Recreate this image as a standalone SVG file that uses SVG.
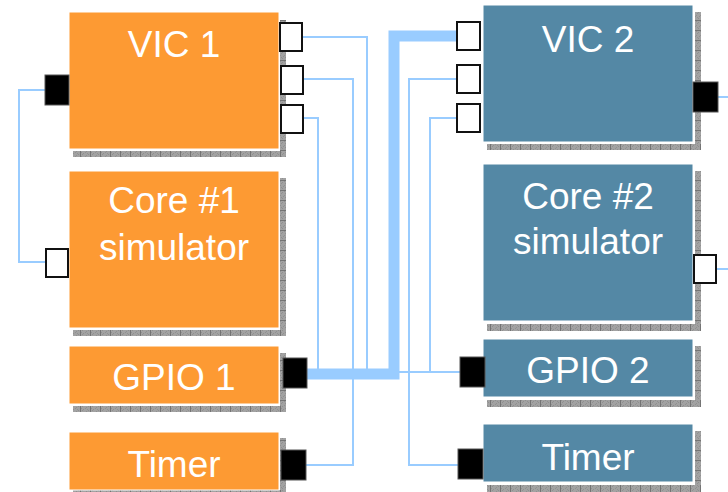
<svg xmlns="http://www.w3.org/2000/svg" width="728" height="492" viewBox="0 0 728 492">
<style>
.o{fill:#fd9a33;stroke:#fff;stroke-width:1}
.b{fill:#5488a5;stroke:#fff;stroke-width:1}
.t{fill:#fff;font-family:"Liberation Sans",Arial,sans-serif;font-size:37px;text-anchor:middle}
.sh{fill:url(#ph)}
.sv{fill:url(#pv)}
.pw{fill:#fff;stroke:#111;stroke-width:2}
.pb{fill:#000;stroke:#555;stroke-width:1}
.c{fill:none;stroke:#99ccff;stroke-width:2}
.ct{fill:none;stroke:#99ccff;stroke-width:11}
</style>
<defs>
<pattern id="ph" patternUnits="userSpaceOnUse" width="10" height="4">
<rect width="10" height="4" fill="#a2a2a2"/>
<rect x="1" y="0" width="1" height="1" fill="#909090"/><rect x="3" y="1" width="1" height="1" fill="#909090"/><rect x="5" y="0" width="1" height="1" fill="#909090"/><rect x="7" y="1" width="1" height="1" fill="#909090"/><rect x="2" y="2" width="1" height="1" fill="#909090"/><rect x="6" y="3" width="1" height="1" fill="#909090"/><rect x="8" y="2" width="1" height="1" fill="#909090"/>
<rect x="0" y="0" width="1" height="4" fill="#747474"/>
</pattern>
<pattern id="pv" patternUnits="userSpaceOnUse" width="4" height="10">
<rect width="4" height="10" fill="#a2a2a2"/>
<rect x="0" y="1" width="1" height="1" fill="#909090"/><rect x="1" y="3" width="1" height="1" fill="#909090"/><rect x="0" y="5" width="1" height="1" fill="#909090"/><rect x="1" y="7" width="1" height="1" fill="#909090"/><rect x="2" y="2" width="1" height="1" fill="#909090"/><rect x="3" y="6" width="1" height="1" fill="#909090"/><rect x="2" y="8" width="1" height="1" fill="#909090"/>
<rect x="0" y="0" width="4" height="1" fill="#747474"/>
</pattern>
</defs>

<g id="connectors">
<path class="ct" d="M307 374 H394 V36 H456"/>
<path class="c" d="M45 90 H19 V262 H45"/>
<path class="c" d="M303 37 H367 V369"/>
<path class="c" d="M303 79 H353 V465 H306"/>
<path class="c" d="M303 118 H318 V372"/>
<path class="c" d="M456 79 H409 V465 H458"/>
<path class="c" d="M456 118 H430 V372"/>
<path class="c" d="M399 372 H460"/>
<path class="c" d="M718 97 H728"/>
<path class="c" d="M717 269 H728"/>
</g>

<g id="vic1">
<rect class="sv" x="280" y="20" width="6" height="137"/>
<rect class="sh" x="73" y="151" width="213" height="6"/>
<rect class="o" x="69" y="12" width="210" height="137"/>
<text class="t" x="174" y="57">VIC 1</text>
<rect class="pw" x="280" y="23" width="22" height="28"/>
<rect class="pw" x="281" y="66" width="22" height="28"/>
<rect class="pw" x="281" y="105" width="22" height="28"/>
<rect class="pb" x="45" y="75" width="24" height="30"/>
</g>

<g id="core1">
<rect class="sv" x="280" y="178" width="6" height="158"/>
<rect class="sh" x="73" y="330" width="213" height="6"/>
<rect class="o" x="69" y="171" width="210" height="157"/>
<text class="t" x="174" y="213">Core #1</text>
<text class="t" x="174" y="260">simulator</text>
<rect class="pw" x="46" y="249" width="22" height="28"/>
</g>

<g id="gpio1">
<rect class="sv" x="280" y="353" width="6" height="59"/>
<rect class="sh" x="73" y="406" width="213" height="6"/>
<rect class="o" x="69" y="346" width="210" height="58"/>
<text class="t" x="174" y="390">GPIO 1</text>
<rect class="pb" x="283" y="358" width="24" height="30"/>
</g>

<g id="timer1">
<rect class="sv" x="280" y="438" width="6" height="54"/>
<rect class="sh" x="73" y="490" width="213" height="6"/>
<rect class="o" x="69" y="432" width="210" height="58"/>
<text class="t" x="174" y="477">Timer</text>
<rect class="pb" x="281" y="450" width="25" height="30"/>
</g>

<g id="vic2">
<rect class="sv" x="695" y="12" width="6" height="138"/>
<rect class="sh" x="487" y="144" width="214" height="6"/>
<rect class="b" x="483" y="5" width="210" height="137"/>
<text class="t" x="588" y="52">VIC 2</text>
<rect class="pw" x="457" y="22" width="23" height="28"/>
<rect class="pw" x="457" y="65" width="23" height="28"/>
<rect class="pw" x="457" y="104" width="23" height="28"/>
<rect class="pb" x="693" y="82" width="25" height="30"/>
</g>

<g id="core2">
<rect class="sv" x="695" y="171" width="6" height="160"/>
<rect class="sh" x="487" y="324" width="214" height="7"/>
<rect class="b" x="483" y="164" width="210" height="157"/>
<text class="t" x="588" y="209">Core #2</text>
<text class="t" x="588" y="254">simulator</text>
<rect class="pw" x="694" y="255" width="22" height="28"/>
</g>

<g id="gpio2">
<rect class="sv" x="695" y="346" width="6" height="61"/>
<rect class="sh" x="487" y="400" width="214" height="7"/>
<rect class="b" x="483" y="339" width="210" height="58"/>
<text class="t" x="588" y="383">GPIO 2</text>
<rect class="pb" x="460" y="357" width="25" height="30"/>
</g>

<g id="timer2">
<rect class="sv" x="695" y="431" width="6" height="61"/>
<rect class="sh" x="487" y="485" width="214" height="7"/>
<rect class="b" x="483" y="424" width="210" height="58"/>
<text class="t" x="588" y="470">Timer</text>
<rect class="pb" x="458" y="449" width="25" height="30"/>
</g>
</svg>
